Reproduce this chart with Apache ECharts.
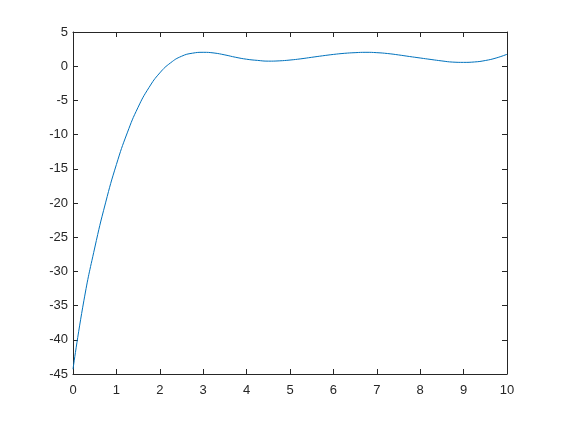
<!DOCTYPE html>
<html>
<head>
<meta charset="utf-8">
<script src="https://cdn.jsdelivr.net/npm/echarts@6/dist/echarts.min.js"></script>
<style>
html,body{margin:0;padding:0;background:#fff;}
#c{width:561px;height:421px;}
</style>
</head>
<body>
<div id="c"></div>
<script>
var xValues = [0, 0.25, 0.5, 0.75, 1.0, 1.25, 1.5, 1.75, 2.0, 2.25, 2.5, 2.75, 3.0, 3.25, 3.5, 3.75, 4.0, 4.25, 4.5, 4.75, 5.0, 5.25, 5.5, 5.75, 6.0, 6.25, 6.5, 6.75, 7.0, 7.25, 7.5, 7.75, 8.0, 8.25, 8.5, 8.75, 9.0, 9.25, 9.5, 9.75, 10];
var yValues = [-44.3, -34.3, -26.58, -19.98, -14.38, -9.75, -6.0, -3.13, -0.98, 0.5, 1.45, 1.9, 2.03, 1.93, 1.65, 1.3, 1.02, 0.85, 0.74, 0.78, 0.9, 1.08, 1.3, 1.52, 1.72, 1.88, 1.98, 2.03, 1.98, 1.85, 1.65, 1.42, 1.2, 0.98, 0.77, 0.6, 0.56, 0.62, 0.83, 1.2, 1.74];
var xTicks = [0, 1, 2, 3, 4, 5, 6, 7, 8, 9, 10];
var yTicks = [-45, -40, -35, -30, -25, -20, -15, -10, -5, 0, 5];

var pts = xValues.map(function (x, i) { return [x, yValues[i]]; });
var axisColor = '#262626';
var font = '"Liberation Sans", Arial, sans-serif';

function xAxisCfg(pos, showLabel) {
  return {
    type: 'value', position: pos,
    min: xTicks[0], max: xTicks[xTicks.length - 1], interval: 1,
    axisLine: { show: true, onZero: false, lineStyle: { color: axisColor, width: 1 } },
    axisTick: { show: true, inside: true, length: 5, lineStyle: { color: axisColor } },
    axisLabel: { show: showLabel, color: axisColor, fontSize: 13, fontFamily: font, margin: 10 },
    splitLine: { show: false }
  };
}
function yAxisCfg(pos, showLabel) {
  return {
    type: 'value', position: pos,
    min: yTicks[0], max: yTicks[yTicks.length - 1], interval: 5,
    axisLine: { show: true, onZero: false, lineStyle: { color: axisColor, width: 1 } },
    axisTick: { show: true, inside: true, length: 5, lineStyle: { color: axisColor } },
    axisLabel: { show: showLabel, color: axisColor, fontSize: 13, fontFamily: font, margin: 5 },
    splitLine: { show: false }
  };
}

var chart = echarts.init(document.getElementById('c'), null, { renderer: 'canvas' });
chart.setOption({
  animation: false,
  backgroundColor: '#ffffff',
  grid: { left: 73, right: 54, top: 32, bottom: 47, containLabel: false },
  xAxis: [xAxisCfg('bottom', true), xAxisCfg('top', false)],
  yAxis: [yAxisCfg('left', true), yAxisCfg('right', false)],
  series: [{
    type: 'line',
    data: pts,
    xAxisIndex: 0, yAxisIndex: 0,
    showSymbol: false,
    smooth: 0.5,
    lineStyle: { color: '#0072BD', width: 1 },
    itemStyle: { color: '#0072BD' }
  }]
});
</script>
</body>
</html>
